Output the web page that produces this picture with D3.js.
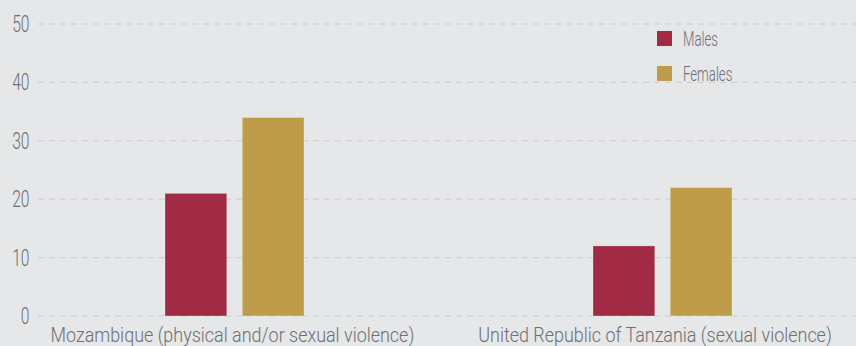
<!DOCTYPE html>
<html><head><meta charset="utf-8">
<script src="https://cdn.jsdelivr.net/npm/d3@7"></script>
<style>
html,body{margin:0;padding:0;background:#e6e7e8;}
svg{display:block;}
text{font-family:Roboto,"Liberation Sans",sans-serif;font-weight:300;fill:#6d6e71;}
</style></head><body>
<svg id="c" width="856" height="346"></svg>
<script>
const categories = ["Mozambique (physical and/or sexual violence)", "United Republic of Tanzania (sexual violence)"];
const seriesNames = ["Males", "Females"];
const males = [21, 12];
const females = [34, 22];
const yTicks = [0, 10, 20, 30, 40, 50];
const colors = ["#a12a45", "#bd9d4a"];

const W = 856, H = 346;
const svg = d3.select("#c");
svg.append("rect").attr("width", W).attr("height", H).attr("fill", "#e6e7e8");

const y = d3.scaleLinear().domain([0, 50]).range([316, 24]);
const x0 = d3.scaleBand().domain(categories).range([20.5, 876.5]).paddingInner(0).paddingOuter(0);
const x1 = d3.scaleBand().domain(seriesNames).range([0, 139]).paddingInner(0.2).paddingOuter(0);

// gridlines
svg.append("g").selectAll("line").data(yTicks).join("line")
  .attr("x1", 38).attr("x2", W)
  .attr("y1", d => y(d)).attr("y2", d => y(d))
  .attr("stroke", "#cacbcd").attr("stroke-width", 1)
  .attr("stroke-dasharray", "6,5");

// y tick labels (condensed)
svg.append("g").selectAll("text").data(yTicks).join("text")
  .attr("transform", d => `translate(29.5,${y(d) + 8}) scale(0.68,1)`)
  .attr("text-anchor", "end")
  .attr("font-size", 23)
  .text(d => d);

// bars
const data = categories.map((c, i) => ({cat: c, vals: [males[i], females[i]]}));
const groups = svg.append("g").selectAll("g").data(data).join("g")
  .attr("transform", d => `translate(${x0(d.cat) + x0.bandwidth()/2 - 139/2},0)`);
groups.selectAll("rect").data(d => d.vals.map((v, j) => ({s: seriesNames[j], v, j})))
  .join("rect")
  .attr("x", d => x1(d.s)).attr("width", x1.bandwidth())
  .attr("y", d => y(d.v)).attr("height", d => y(0) - y(d.v))
  .attr("fill", d => colors[d.j])
  .attr("stroke", "rgba(255,255,255,0.35)").attr("stroke-width", 0.8);

// x labels
const labW = 364;
svg.append("g").selectAll("text").data(categories).join("text")
  .attr("font-size", 20.5)
  .text(d => d)
  .each(function(d, i) {
    const raw = this.getComputedTextLength();
    const sx = i === 0 ? labW / raw : null;
    this.__sx = sx;
  });
const s0 = svg.selectAll("g:last-of-type text").nodes();
const sxLab = s0[0].__sx;
d3.selectAll(s0).each(function(d) {
  const w = this.getComputedTextLength() * sxLab;
  let cx = x0(d) + x0.bandwidth()/2 - 2;
  const maxRight = W - 24;
  if (cx + w/2 > maxRight) cx = maxRight - w/2;
  d3.select(this).attr("transform", `translate(${cx - w/2},341.5) scale(${sxLab},1)`);
});

// legend
const lg = svg.append("g").attr("transform", "translate(657,31)");
const li = lg.selectAll("g").data(seriesNames).join("g")
  .attr("transform", (d, i) => `translate(0,${i * 35})`);
li.append("rect").attr("width", 15).attr("height", 15).attr("fill", (d, i) => colors[i]);
li.append("text").attr("transform", "translate(26,14.5) scale(0.66,1)")
  .attr("font-size", 20).text(d => d);
</script>
</body></html>
